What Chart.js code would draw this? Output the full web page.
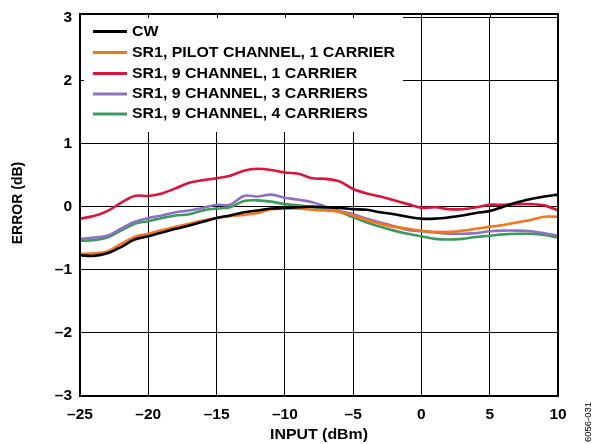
<!DOCTYPE html>
<html>
<head>
<meta charset="utf-8">
<script src="https://cdn.jsdelivr.net/npm/chart.js@4.4.1/dist/chart.umd.min.js"></script>
<style>
html,body{margin:0;padding:0;background:#fff;}
#wrap{width:593px;height:444px;position:relative;}
</style>
</head>
<body>
<div id="wrap"><canvas id="c" width="593" height="444"></canvas></div>
<script>
const inputDbm = [-25,-24,-23,-22,-21,-20,-19,-18,-17,-16,-15,-14,-13,-12,-11,-10,-9,-8,-7,-6,-5,-4,-3,-2,-1,0,1,2,3,4,5,6,7,8,9,10];
const cw =      [-0.77,-0.78,-0.74,-0.64,-0.52,-0.47,-0.41,-0.35,-0.30,-0.24,-0.18,-0.14,-0.09,-0.06,-0.03,-0.02,-0.01,0.00,-0.01,-0.02,-0.04,-0.05,-0.09,-0.12,-0.16,-0.19,-0.19,-0.17,-0.14,-0.10,-0.07,0.00,0.07,0.12,0.16,0.19];
const pilot1 =  [-0.75,-0.74,-0.71,-0.59,-0.48,-0.43,-0.37,-0.32,-0.27,-0.22,-0.18,-0.15,-0.13,-0.10,-0.04,-0.03,-0.03,-0.05,-0.06,-0.08,-0.14,-0.21,-0.27,-0.32,-0.35,-0.38,-0.40,-0.40,-0.38,-0.35,-0.32,-0.29,-0.25,-0.21,-0.16,-0.16];
const ch9c1 =   [-0.19,-0.15,-0.07,0.06,0.17,0.17,0.21,0.29,0.38,0.42,0.45,0.49,0.57,0.60,0.58,0.54,0.52,0.45,0.44,0.40,0.28,0.21,0.16,0.10,0.04,-0.02,-0.01,-0.04,-0.04,-0.01,0.03,0.03,0.04,0.04,0.02,-0.06];
const ch9c3 =   [-0.51,-0.49,-0.46,-0.35,-0.24,-0.18,-0.14,-0.09,-0.06,-0.02,0.03,0.03,0.17,0.16,0.19,0.14,0.11,0.07,0.00,-0.07,-0.12,-0.19,-0.25,-0.31,-0.37,-0.39,-0.41,-0.43,-0.43,-0.42,-0.39,-0.38,-0.38,-0.39,-0.42,-0.46];
const ch9c4 =   [-0.54,-0.53,-0.49,-0.38,-0.27,-0.23,-0.18,-0.14,-0.12,-0.06,-0.03,-0.01,0.09,0.10,0.08,0.04,0.02,-0.01,-0.04,-0.08,-0.17,-0.25,-0.32,-0.38,-0.43,-0.47,-0.51,-0.52,-0.51,-0.48,-0.46,-0.44,-0.43,-0.43,-0.45,-0.49];
const seriesNames = ['CW','SR1, PILOT CHANNEL, 1 CARRIER','SR1, 9 CHANNEL, 1 CARRIER','SR1, 9 CHANNEL, 3 CARRIERS','SR1, 9 CHANNEL, 4 CARRIERS'];
const seriesColors = ['#000000','#F7741E','#DC143C','#8E72C0','#3C9A5F'];
const xTickValues = [-25,-20,-15,-10,-5,0,5,10];
const xTickLabels = ['\u201325','\u201320','\u201315','\u201310','\u20135','0','5','10'];
const yTickValues = [-3,-2,-1,0,1,2,3];
const yTickLabels = ['\u20133','\u20132','\u20131','0','1','2','3'];
const xTitle = 'INPUT (dBm)';
const yTitle = 'ERROR (dB)';
const figId = '6056-031';

const allSeries = [cw, pilot1, ch9c1, ch9c3, ch9c4];
const FONT = '"Liberation Sans", Arial, sans-serif';
const STRETCH = 1.135;

const datasets = allSeries.map((s, i) => ({
  label: seriesNames[i],
  data: s.map((v, k) => ({x: inputDbm[k], y: v})),
  borderColor: seriesColors[i],
  backgroundColor: seriesColors[i],
  borderWidth: 2.6,
  pointRadius: 0,
  tension: 0.35,
  fill: false,
  order: i
}));

const L = 80, T = 14, R = 558, B = 396;
const W = 593, H = 444;

function stretchedText(ctx, txt, x, y, align) {
  ctx.save();
  ctx.translate(x, y);
  ctx.scale(STRETCH, 1);
  ctx.textAlign = align;
  ctx.fillText(txt, 0, 0);
  ctx.restore();
}

const deco = {
  id: 'deco',
  beforeDatasetsDraw(chart) {
    const ctx = chart.ctx;
    const xs = chart.scales.x, ys = chart.scales.y;
    ctx.save();
    ctx.fillStyle = '#fff';
    ctx.fillRect(L, T, 403 - L, 132 - T);
    ctx.strokeStyle = '#000';
    ctx.lineWidth = 1;
    ctx.beginPath();
    xTickValues.slice(1, -1).forEach(v => {
      const px = Math.round(xs.getPixelForValue(v)) + 0.5;
      ctx.moveTo(px, T); ctx.lineTo(px, T + 4);
    });
    const py2 = Math.round(ys.getPixelForValue(2)) + 0.5;
    ctx.moveTo(L, py2); ctx.lineTo(L + 4, py2);
    ctx.stroke();
    ctx.restore();
  },
  afterDraw(chart) {
    const ctx = chart.ctx;
    ctx.save();
    ctx.strokeStyle = '#000';
    ctx.lineWidth = 2;
    ctx.strokeRect(L, T, R - L, B - T);
    ctx.font = 'bold 14px ' + FONT;
    ctx.textBaseline = 'middle';
    const rows = [31.5, 52.5, 73.5, 94, 114];
    seriesNames.forEach((n, i) => {
      ctx.strokeStyle = seriesColors[i];
      ctx.lineWidth = 3;
      ctx.beginPath();
      ctx.moveTo(93, rows[i]); ctx.lineTo(127, rows[i]);
      ctx.stroke();
      ctx.fillStyle = '#000';
      stretchedText(ctx, n, 132, rows[i] + 0.5, 'left');
    });
    ctx.fillStyle = '#000';
    ctx.font = 'bold 14px ' + FONT;
    stretchedText(ctx, xTitle, 319, 435, 'center');
    ctx.save();
    ctx.translate(18, 203);
    ctx.rotate(-Math.PI / 2);
    ctx.textAlign = 'center';
    ctx.fillText(yTitle, 0, 0);
    ctx.restore();
    ctx.save();
    ctx.font = '9.5px ' + FONT;
    ctx.translate(588, 422);
    ctx.rotate(-Math.PI / 2);
    ctx.textAlign = 'center';
    ctx.fillText(figId, 0, 0);
    ctx.restore();
    ctx.restore();
  }
};

new Chart(document.getElementById('c'), {
  type: 'line',
  data: { datasets },
  plugins: [deco],
  options: {
    responsive: false,
    animation: false,
    devicePixelRatio: 1,
    layout: { padding: { left: 0, top: T, right: W - R, bottom: 0 } },
    plugins: { legend: { display: false }, tooltip: { enabled: false } },
    scales: {
      x: {
        type: 'linear',
        min: -25, max: 10,
        afterFit(s) { s.height = H - B; },
        afterBuildTicks(s) { s.ticks = xTickValues.map(v => ({value: v})); },
        grid: { color: '#000', lineWidth: 1, drawTicks: false },
        border: { display: false },
        ticks: {
          padding: 9,
          color: '#000',
          font: { family: FONT, size: 15.5, weight: 'bold' },
          maxRotation: 0,
          callback: (v) => xTickLabels[xTickValues.indexOf(v)]
        }
      },
      y: {
        type: 'linear',
        min: -3, max: 3,
        afterFit(s) { s.width = L; },
        afterBuildTicks(s) { s.ticks = yTickValues.map(v => ({value: v})); },
        grid: { color: '#000', lineWidth: 1, drawTicks: false },
        border: { display: false },
        ticks: {
          padding: 8,
          color: '#000',
          font: { family: FONT, size: 15.5, weight: 'bold' },
          callback: (v) => yTickLabels[yTickValues.indexOf(v)]
        }
      }
    }
  }
});
</script>
</body>
</html>
